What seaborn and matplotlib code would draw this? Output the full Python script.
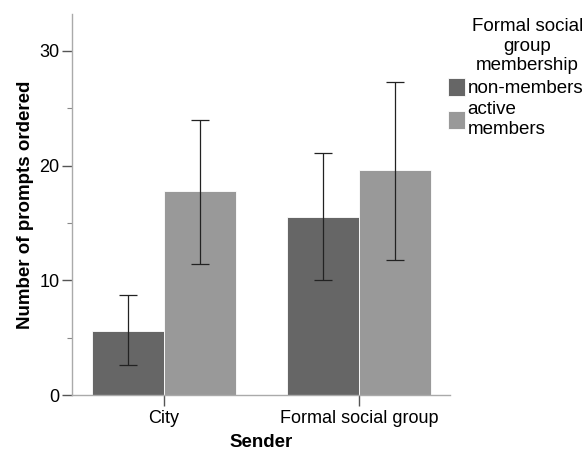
import numpy as np
import pandas as pd
import matplotlib
matplotlib.use("Agg")
import matplotlib.pyplot as plt
from matplotlib.ticker import MultipleLocator
import seaborn as sns

# values
senders = ["City", "Formal social group"]
groups = ["non-members", "active\nmembers"]
means = {"non-members": [5.6, 15.5], "active\nmembers": [17.8, 19.6]}
err_low = {"non-members": [2.6, 10.0], "active\nmembers": [11.4, 11.8]}
err_high = {"non-members": [8.7, 21.1], "active\nmembers": [24.0, 27.3]}

rows = []
for g in groups:
    for i, s in enumerate(senders):
        rows.append({"Sender": s, "group": g, "value": means[g][i]})
df = pd.DataFrame(rows)

sns.set_style("white")
plt.rcParams['font.family'] = ['Liberation Sans', 'DejaVu Sans']
plt.rcParams['text.color'] = "black"
plt.rcParams['axes.labelcolor'] = "black"
plt.rcParams['xtick.color'] = "black"
plt.rcParams['ytick.color'] = "black"

fig = plt.figure(figsize=(5.83, 4.51), dpi=100)
ax = fig.add_axes([0.1235, 0.124, 0.6485, 0.845])

sns.barplot(data=df, x="Sender", y="value", hue="group", hue_order=groups,
            palette=["#666666", "#999999"], width=0.74, errorbar=None,
            edgecolor="white", linewidth=0.6, ax=ax)

# error bars centred on each bar
for g, cont in zip(groups, ax.containers):
    xs = [p.get_x() + p.get_width() / 2 for p in cont.patches]
    lo = np.array(err_low[g])
    hi = np.array(err_high[g])
    mid = (lo + hi) / 2
    ax.errorbar(xs, mid, yerr=(hi - lo) / 2, fmt="none", ecolor="#222222",
                elinewidth=0.9, capsize=6.5, capthick=0.9)

ax.set_ylim(0, 33.2)
ax.set_xlim(-0.472, 1.467)
ax.yaxis.set_major_locator(MultipleLocator(10))
ax.yaxis.set_minor_locator(MultipleLocator(5))
ax.tick_params(axis="y", which="major", left=True, length=7, width=1, color="#555555",
               labelsize=13, pad=2)
ax.tick_params(axis="y", which="minor", left=True, length=3.5, width=0.8, color="#888888")
ax.tick_params(axis="x", bottom=True, length=8, width=1, color="#555555", labelsize=13,
               pad=3)

for side in ["top", "right"]:
    ax.spines[side].set_visible(False)
for side in ["left", "bottom"]:
    ax.spines[side].set_color("#aaaaaa")
    ax.spines[side].set_linewidth(1)

ax.set_xlabel("Sender", fontsize=13.5, fontweight="bold", labelpad=5)
ax.set_ylabel("Number of prompts ordered", fontsize=13.5, fontweight="bold", labelpad=4)

leg = ax.legend(title="Formal social\ngroup\nmembership", loc="upper left",
                bbox_to_anchor=(0.768, 0.96), bbox_transform=fig.transFigure,
                frameon=False, fontsize=13.5, title_fontsize=13.5,
                handlelength=0.9, handleheight=1.1, handletextpad=0.15,
                labelspacing=0.2, borderaxespad=0, borderpad=0)
leg.get_title().set_multialignment("center")
leg._legend_box.align = "right"

fig.savefig("out.png", dpi=100)
